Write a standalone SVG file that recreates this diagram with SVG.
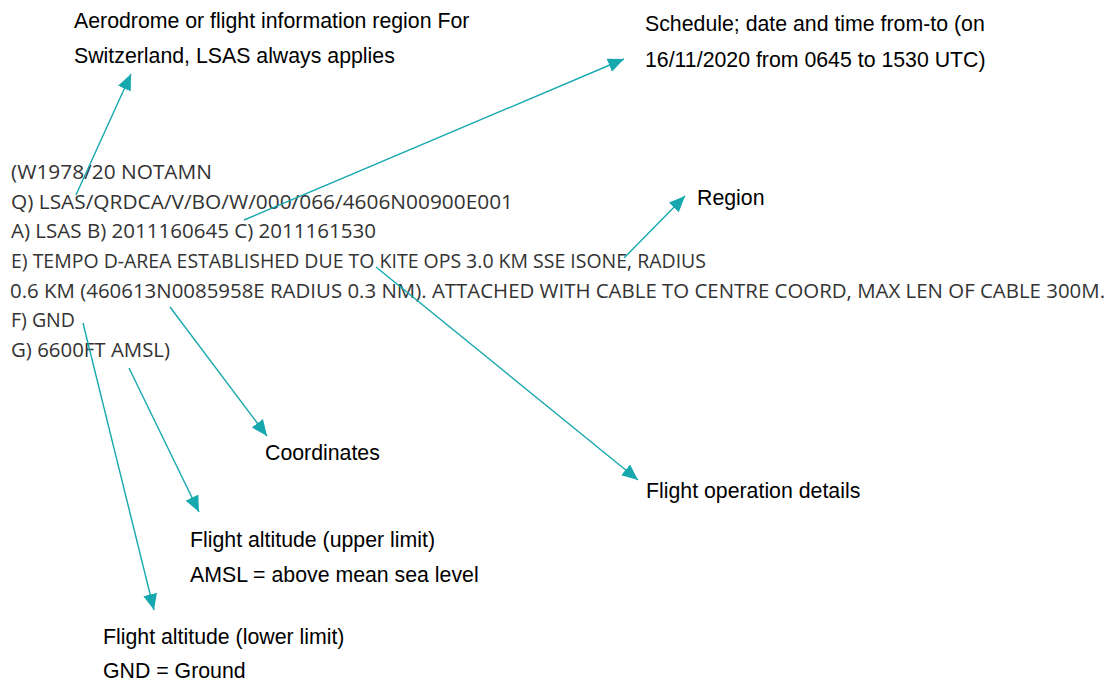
<svg xmlns="http://www.w3.org/2000/svg" width="1113" height="681" viewBox="0 0 1113 681">
  <style>
    .notam { font-family: "Open Sans", "Liberation Sans", sans-serif; font-size: 19.5px; fill: #333333; }
    .lbl { font-family: "Liberation Sans", Arial, sans-serif; font-size: 21.3px; fill: #000000; }
    .conn { stroke: #16a8ae; stroke-width: 1.4; fill: none; marker-end: url(#ah); }
  </style>
  <defs>
    <marker id="ah" viewBox="0 0 16 14" refX="16" refY="7" markerWidth="16" markerHeight="14" markerUnits="userSpaceOnUse" orient="auto">
      <path d="M0,0 L16,7 L0,14 z" fill="#16a8ae"/>
    </marker>
  </defs>
  <rect width="1113" height="681" fill="#ffffff"/>

  <g id="notam">
    <text class="notam" x="11" y="179" textLength="201" lengthAdjust="spacingAndGlyphs">(W1978/20 NOTAMN</text>
    <text class="notam" x="11" y="208.5" textLength="502" lengthAdjust="spacingAndGlyphs">Q) LSAS/QRDCA/V/BO/W/000/066/4606N00900E001</text>
    <text class="notam" x="11" y="238" textLength="365" lengthAdjust="spacingAndGlyphs">A) LSAS B) 2011160645 C) 2011161530</text>
    <text class="notam" x="11" y="268" textLength="695" lengthAdjust="spacingAndGlyphs">E) TEMPO D-AREA ESTABLISHED DUE TO KITE OPS 3.0 KM SSE ISONE, RADIUS</text>
    <text class="notam" x="10" y="297.5" textLength="1095" lengthAdjust="spacingAndGlyphs">0.6 KM (460613N0085958E RADIUS 0.3 NM). ATTACHED WITH CABLE TO CENTRE COORD, MAX LEN OF CABLE 300M.</text>
    <text class="notam" x="11" y="327" textLength="64" lengthAdjust="spacingAndGlyphs">F) GND</text>
    <text class="notam" x="11" y="356.5" textLength="159" lengthAdjust="spacingAndGlyphs">G) 6600FT AMSL)</text>
  </g>

  <g id="label-aerodrome">
    <text class="lbl" x="74" y="28">Aerodrome or flight information region For</text>
    <text class="lbl" x="74" y="63">Switzerland, LSAS always applies</text>
  </g>
  <g id="label-schedule">
    <text class="lbl" x="645" y="31">Schedule; date and time from-to (on</text>
    <text class="lbl" x="645" y="67">16/11/2020 from 0645 to 1530 UTC)</text>
  </g>
  <g id="label-region">
    <text class="lbl" x="697" y="205">Region</text>
  </g>
  <g id="label-coordinates">
    <text class="lbl" x="265" y="460">Coordinates</text>
  </g>
  <g id="label-flightops">
    <text class="lbl" x="646" y="498">Flight operation details</text>
  </g>
  <g id="label-upper">
    <text class="lbl" x="190" y="547">Flight altitude (upper limit)</text>
    <text class="lbl" x="190" y="582">AMSL = above mean sea level</text>
  </g>
  <g id="label-lower">
    <text class="lbl" x="103" y="644">Flight altitude (lower limit)</text>
    <text class="lbl" x="103" y="678">GND = Ground</text>
  </g>

  <g id="connectors">
    <line class="conn" x1="76" y1="195" x2="131" y2="74"/>
    <line class="conn" x1="244" y1="220" x2="624" y2="59"/>
    <line class="conn" x1="624" y1="258" x2="685" y2="196"/>
    <line class="conn" x1="170" y1="307" x2="267" y2="436"/>
    <line class="conn" x1="376" y1="267" x2="638" y2="480"/>
    <line class="conn" x1="129" y1="368" x2="199" y2="512"/>
    <line class="conn" x1="83" y1="323" x2="154" y2="610"/>
  </g>
</svg>
